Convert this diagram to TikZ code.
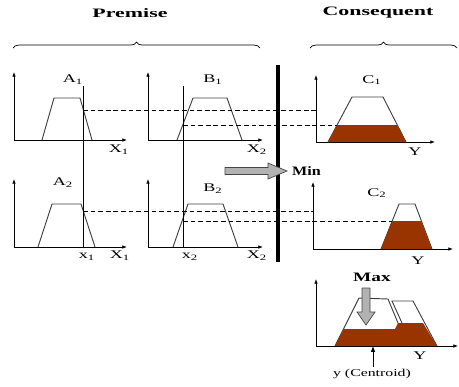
\documentclass[tikz,border=0pt]{standalone}
\usepackage{fontspec}
\setmainfont{Liberation Serif}
\usetikzlibrary{arrows.meta, positioning, decorations.pathreplacing}

\definecolor{rust}{RGB}{153,51,0}
\definecolor{blockgray}{RGB}{178,178,178}
\newcommand{\wlbl}[1]{\scalebox{1.55}[1]{#1}}
\newcommand{\whdr}[1]{\scalebox{1.7}[1]{#1}}

\begin{document}
\begin{tikzpicture}[
		x=0.03cm, y=-0.03cm,
		axis/.style={-{Latex[length=4pt, width=3pt]}, line width=0.6pt},
		mf/.style={draw=black!75, line width=0.8pt},
		cut/.style={dash pattern=on 4pt off 2.5pt, line width=0.5pt},
		lbl/.style={font=\fontsize{10}{12}\selectfont, inner sep=0pt},
		hdr/.style={font=\fontsize{11}{13}\selectfont\bfseries, inner sep=0pt},
		blk/.style={fill=blockgray, draw=gray!55!black, line width=0.6pt},
		brc/.style={decorate, decoration={brace, amplitude=5pt}, line width=0.6pt},
		>=Stealth
	]
	\useasboundingbox (0,0) rectangle (459,386);

	% Headings and braces
	\node[hdr] (premise) at (130,13) {\whdr{Premise}};
	\node[hdr] (consequent) at (378,13) {\whdr{Consequent}};
	\draw[brc] (13,48) -- (260,48);
	\draw[brc] (310,48) -- (457,48);

	% Rule 1: A1
	\draw[axis] (14,140) -- (14,72);
	\draw[axis] (14,140) -- (127,140);
	\draw[mf] (42,140) -- (54,98) -- (80,98) -- (92,140);
	\node[lbl] (A1) at (73,80) {\wlbl{A\textsubscript{1}}};
	\node[lbl] (X1top) at (119,150) {\wlbl{X\textsubscript{1}}};

	% Rule 1: B1
	\draw[axis] (148,140) -- (148,72);
	\draw[axis] (148,140) -- (263,140);
	\draw[mf] (177,140) -- (193,98) -- (227,98) -- (242,140);
	\node[lbl] (B1) at (213,80) {\wlbl{B\textsubscript{1}}};
	\node[lbl] (X2top) at (257,150) {\wlbl{X\textsubscript{2}}};

	% Rule 1: C1
	\draw[axis] (316,142) -- (316,75);
	\draw[axis] (316,142) -- (435,142);
	\draw[mf] (328,142) -- (352,97) -- (383,97) -- (406,142);
	\fill[rust] (328,142) -- (337,125) -- (397,125) -- (406,142) -- cycle;
	\node[lbl] (C1) at (372,80) {\wlbl{C\textsubscript{1}}};
	\node[lbl] (Ytop) at (415,152) {\wlbl{Y}};

	% Rule 2: A2
	\draw[axis] (14,247) -- (14,179);
	\draw[axis] (14,247) -- (127,247);
	\draw[mf] (38,247) -- (52,204) -- (81,204) -- (95,247);
	\node[lbl] (A2) at (63,183) {\wlbl{A\textsubscript{2}}};
	\node[lbl] (X1bot) at (120,256) {\wlbl{X\textsubscript{1}}};
	\node[lbl] (x1) at (87,257) {\wlbl{x\textsubscript{1}}};

	% Rule 2: B2
	\draw[axis] (148,247) -- (148,179);
	\draw[axis] (148,247) -- (263,247);
	\draw[mf] (173,247) -- (188,204) -- (223,204) -- (238,247);
	\node[lbl] (B2) at (213,189) {\wlbl{B\textsubscript{2}}};
	\node[lbl] (x2) at (190,257) {\wlbl{x\textsubscript{2}}};
	\node[lbl] (X2bot) at (257,256) {\wlbl{X\textsubscript{2}}};

	% Rule 2: C2
	\draw[axis] (313,249) -- (313,182);
	\draw[axis] (313,249) -- (453,249);
	\draw[mf] (381,249) -- (399,204) -- (415,204) -- (432,249);
	\fill[rust] (381,249) -- (392,221) -- (421,221) -- (432,249) -- cycle;
	\node[lbl] (C2) at (377,193) {\wlbl{C\textsubscript{2}}};
	\node[lbl] (Ybot) at (418,261) {\wlbl{Y}};

	% Crisp inputs
	\coordinate (x1in) at (83,86);
	\coordinate (x1foot) at (83,247);
	\coordinate (x2in) at (183,86);
	\coordinate (x2foot) at (183,247);
	\draw[line width=0.6pt] (x1in) -- (x1foot);
	\draw[line width=0.6pt] (x2in) -- (x2foot);

	% Membership levels carried over
	\coordinate (a1hit) at (83,110);
	\coordinate (c1axis) at (316,110);
	\coordinate (b1hit) at (183,125);
	\coordinate (c1cut) at (337,125);
	\coordinate (a2hit) at (83,211);
	\coordinate (c2axis) at (313,211);
	\coordinate (b2hit) at (183,221);
	\coordinate (c2cut) at (392,221);
	\draw[cut] (a1hit) -- (c1axis);
	\draw[cut] (b1hit) -- (c1cut);
	\draw[cut] (a2hit) -- (c2axis);
	\draw[cut] (b2hit) -- (c2cut);

	% Separator and Min
	\draw[line width=3.4pt] (278,65) -- (278,262);
	\draw[blk] (225,167.5) -- (268,167.5) -- (268,163) -- (287,171) -- (268,179)
		-- (268,174.5) -- (225,174.5) -- cycle;
	\node[hdr, anchor=west] (min) at (292,171) {\scalebox{1.25}[1]{Min}};

	% Aggregation
	\draw[axis] (316,346) -- (316,279);
	\draw[axis] (316,346) -- (458,346);
	\draw[mf] (335,346) -- (359,298) -- (388,299) -- (398,323);
	\draw[mf] (402,323) -- (392,301) -- (413,301) -- (437,346);
	\fill[rust] (335,346) -- (344,329) -- (395,329) -- (398,323) -- (423,323)
		-- (437,346) -- cycle;
	\node[lbl] (Yagg) at (420,356) {\wlbl{Y}};
	\node[hdr] (max) at (372,277) {\scalebox{1.5}[1]{Max}};
	\draw[blk] (362,288) -- (370,288) -- (370,312) -- (375,312) -- (366,325)
		-- (357,312) -- (362,312) -- cycle;
	\node[lbl, font=\fontsize{9}{11}\selectfont] (centroid) at (372,374)
		{\scalebox{1.5}[1]{y (Centroid)}};
	\coordinate (cog) at (373,346);
	\draw[-{Latex[length=5pt, width=4pt]}, line width=0.8pt]
		([yshift=2pt]centroid.north -| cog) -- (cog);
\end{tikzpicture}
\end{document}
